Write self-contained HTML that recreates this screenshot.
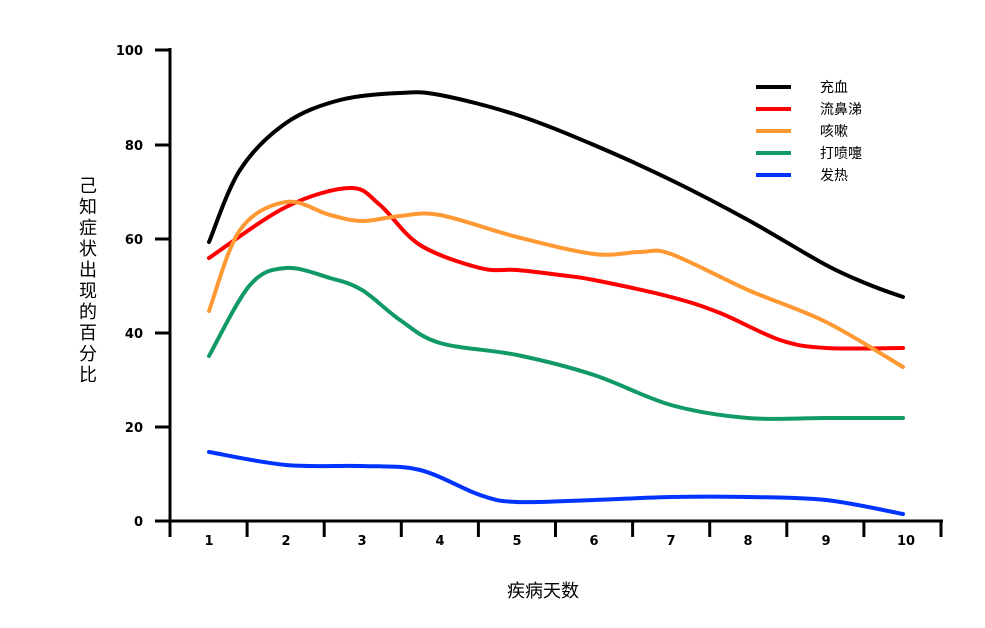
<!DOCTYPE html><html><head><meta charset="utf-8"><style>body{margin:0;background:#fff}svg{display:block}text{font-family:"DejaVu Sans","Liberation Sans",sans-serif;font-weight:bold;font-size:13px}text.c{font-family:"Noto Sans CJK SC","WenQuanYi Zen Hei",sans-serif;font-weight:normal}text.b{font-size:18px}text.l{font-size:14px}</style></head><body>
<svg id="s" width="985" height="628" xmlns="http://www.w3.org/2000/svg">
<g stroke="#000" stroke-width="3" fill="none">
<line x1="170" y1="48" x2="170" y2="523"/><line x1="168" y1="521" x2="943" y2="521"/>
<line x1="155" y1="50" x2="170" y2="50"/><line x1="155" y1="145" x2="170" y2="145"/><line x1="155" y1="239" x2="170" y2="239"/><line x1="155" y1="333" x2="170" y2="333"/><line x1="155" y1="427" x2="170" y2="427"/><line x1="155" y1="521" x2="170" y2="521"/>
<g id="xt"></g></g>
<g text-anchor="end"><text x="143" y="55">100</text><text x="143" y="150">80</text><text x="143" y="244">60</text><text x="143" y="338">40</text><text x="143" y="432">20</text><text x="143" y="526">0</text></g>
<g text-anchor="middle" id="xl"></g>
<text class="c b" x="543" y="597" text-anchor="middle">疾病天数</text>
<g text-anchor="middle"><text class="c b" x="88" y="192">己</text><text class="c b" x="88" y="213">知</text><text class="c b" x="88" y="234">症</text><text class="c b" x="88" y="255">状</text><text class="c b" x="88" y="276">出</text><text class="c b" x="88" y="297">现</text><text class="c b" x="88" y="318">的</text><text class="c b" x="88" y="339">百</text><text class="c b" x="88" y="360">分</text><text class="c b" x="88" y="381">比</text></g>
<g stroke-width="4"><line x1="756" y1="87" x2="791" y2="87" stroke="#000"/><line x1="756" y1="109" x2="791" y2="109" stroke="#f00"/><line x1="756" y1="131" x2="791" y2="131" stroke="#f93"/><line x1="756" y1="153" x2="791" y2="153" stroke="#196"/><line x1="756" y1="175" x2="791" y2="175" stroke="#03f"/></g>
<g><text class="c l" x="820" y="92">充血</text><text class="c l" x="820" y="114">流鼻涕</text><text class="c l" x="820" y="136">咳嗽</text><text class="c l" x="820" y="158">打喷嚏</text><text class="c l" x="820" y="180">发热</text></g>
<g id="lines" fill="none" stroke-width="4" stroke-linecap="round" stroke-linejoin="round"></g>
</svg>
<script>
var ns="http://www.w3.org/2000/svg",xt=document.getElementById('xt'),xl=document.getElementById('xl');
var lx=[209,286,362,440,517,594,671,748,826,906];
for(var i=0;i<11;i++){var l=document.createElementNS(ns,'line');var x=170+i*77.1;l.setAttribute('x1',x);l.setAttribute('x2',x);l.setAttribute('y1',521);l.setAttribute('y2',537);xt.appendChild(l);}
lx.forEach(function(x,i){var t=document.createElementNS(ns,'text');t.setAttribute('x',x);t.setAttribute('y',545);t.textContent=i+1;xl.appendChild(t);});
var S=[["#000",[[209,242],[240,170],[286,123],[340,100],[400,93],[440,95],[517,115],[594,145],[671,180],[748,220],[826,265],[870,285],[903,297]]],
["#f00",[[209,258],[286,207],[350,188],[380,205],[420,245],[480,268],[517,270],[560,275],[594,280],[671,297],[720,313],[780,340],[826,348],[903,348]]],
["#f93",[[209,311],[240,230],[286,202],[330,215],[362,221],[400,216],[440,215],[517,237],[594,254],[640,252],[671,254],[748,290],[826,322],[903,367]]],
["#196",[[209,356],[250,285],[286,268],[330,278],[362,290],[400,320],[440,343],[517,355],[594,375],[671,405],[748,418],[826,418],[903,418]]],
["#03f",[[209,452],[286,465],[362,466],[420,470],[480,495],[517,502],[594,500],[671,497],[748,497],[826,500],[903,514]]]];
var g=document.getElementById('lines');
S.forEach(function(s){var p=s[1],d="M"+p[0];for(var i=0;i<p.length-1;i++){var a=p[i-1]||p[i],b=p[i],c=p[i+1],e=p[i+2]||c;d+=" C"+(b[0]+(c[0]-a[0])/6)+","+(b[1]+(c[1]-a[1])/6)+" "+(c[0]-(e[0]-b[0])/6)+","+(c[1]-(e[1]-b[1])/6)+" "+c;}
var q=document.createElementNS(ns,'path');q.setAttribute('d',d);q.setAttribute('stroke',s[0]);g.appendChild(q);});
</script></body></html>
